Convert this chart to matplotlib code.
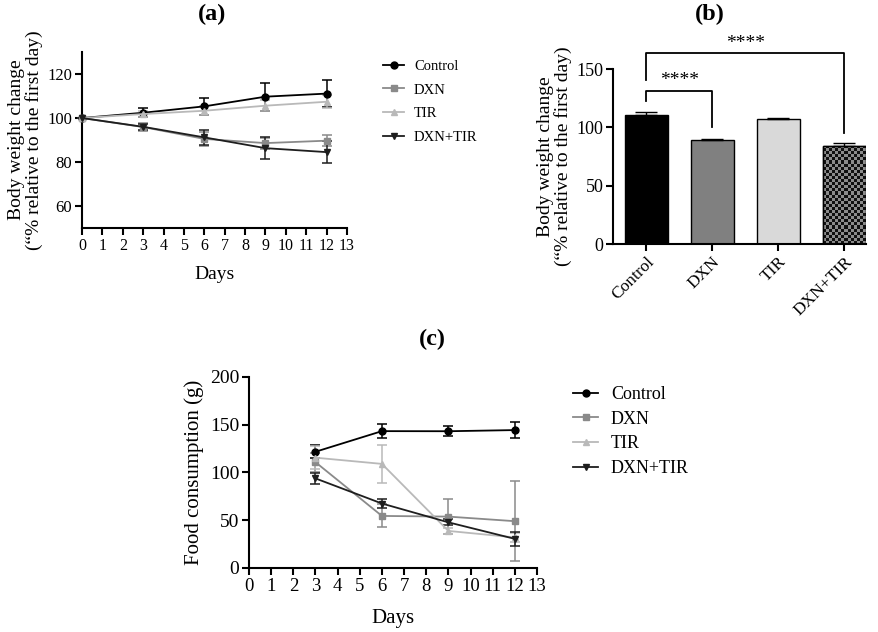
import numpy as np
import matplotlib
matplotlib.use("Agg")
import matplotlib.pyplot as plt
from matplotlib.lines import Line2D

plt.rcParams['font.family'] = ['Liberation Serif', 'DejaVu Serif']
plt.rcParams['axes.linewidth'] = 1.5

# ---------------- data ----------------
groups = ["Control", "DXN", "TIR", "DXN+TIR"]

# (a) body weight change over days
days_a = [0, 3, 6, 9, 12]
bw_control = [100, 102.4, 105.3, 109.7, 111.1]
bw_control_err = [0, 2.0, 3.9, 6.3, 6.0]
bw_dxn = [100, 95.9, 90.5, 88.6, 89.7]
bw_dxn_err = [0, 2.0, 3.0, 2.5, 2.5]
bw_tir = [100, 101.8, 103.3, 105.6, 107.4]
bw_tir_err = [0, 1.5, 2.0, 2.5, 3.0]
bw_combo = [100, 96.0, 91.2, 86.3, 84.5]
bw_combo_err = [0, 1.5, 3.5, 5.0, 5.0]

# (b) final body weight change
final_bw = [110.6, 89.4, 107.1, 84.3]
final_bw_err = [2.8, 0.8, 1.2, 2.0]

# (c) food consumption
days_c = [3, 6, 9, 12]
fc_control = [121.7, 143.3, 143.2, 144.4]
fc_control_err = [7, 7, 5, 8]
fc_dxn = [110.8, 54.5, 53.8, 49.0]
fc_dxn_err = [10, 12, 18, 42]
fc_tir = [115.5, 109.0, 38.8, 32.0]
fc_tir_err = [12, 20, 3, 5]
fc_combo = [93.8, 67.5, 47.8, 30.5]
fc_combo_err = [6, 5, 3, 7]

colors = {"Control": "#000000", "DXN": "#8a8a8a", "TIR": "#b9b9b9", "DXN+TIR": "#1e1e1e"}
markers = {"Control": "o", "DXN": "s", "TIR": "^", "DXN+TIR": "v"}

fig = plt.figure(figsize=(8.79, 6.32), dpi=100)

def style_axes(ax, ls):
    ax.spines['top'].set_visible(False)
    ax.spines['right'].set_visible(False)
    ax.tick_params(direction='out', width=1.5, length=5, labelsize=ls, pad=2)

def line_panel(ax, x, series, fs_leg, leg_anchor, spacing, ls):
    handles = []
    for name, (y, e) in series.items():
        ax.errorbar(x, y, yerr=e, color=colors[name], marker=markers[name],
                    markersize=5, linewidth=1.3, elinewidth=1.1, capsize=3.5,
                    capthick=1.1, clip_on=False, zorder=3)
        handles.append(Line2D([], [], color=colors[name], marker=markers[name],
                              markersize=5, linewidth=1.3, label=name))
    ax.set_xlim(0, 13)
    ax.set_xticks(range(0, 14))
    style_axes(ax, ls)
    ax.legend(handles=handles, loc='upper left', bbox_to_anchor=leg_anchor,
              frameon=False, fontsize=fs_leg, handlelength=1.4, handletextpad=0.7,
              labelspacing=spacing, borderaxespad=0)

# ---------------- (a) ----------------
ax_a = fig.add_axes([0.0933, 0.6392, 0.3015, 0.2785])
line_panel(ax_a, days_a,
           {"Control": (bw_control, bw_control_err), "DXN": (bw_dxn, bw_dxn_err),
            "TIR": (bw_tir, bw_tir_err), "DXN+TIR": (bw_combo, bw_combo_err)},
           10.5, (1.115, 0.99), 0.72, 12)
ax_a.tick_params(axis='x', labelsize=11.5)
ax_a.set_ylim(50, 130)
ax_a.set_yticks([60, 80, 100, 120])
ax_a.set_xlabel("Days", fontsize=14, labelpad=9)
ax_a.set_ylabel("Body weight change\n(“% relative to the first day)", fontsize=14,
                linespacing=1.0, labelpad=3)
fig.text(212 / 879, 1 - 14 / 632, "(a)", fontsize=17.5, fontweight='bold',
         ha='center', va='center')

# ---------------- (b) ----------------
ax_b = fig.add_axes([0.6974, 0.6139, 0.2878, 0.2769])
xpos = np.arange(len(groups))
bar_colors = ["#000000", "#808080", "#d9d9d9", "#808080"]
bars = ax_b.bar(xpos, final_bw, width=0.65, color=bar_colors, edgecolor='black',
                linewidth=1.0, zorder=2)
ax_b.errorbar(xpos, final_bw, yerr=[[0] * len(groups), final_bw_err], fmt='none',
              ecolor='black', elinewidth=1.0, capsize=8, capthick=1.0, zorder=3)
ax_b.set_xlim(-0.5, 3.33)
ax_b.set_ylim(0, 150)
ax_b.set_yticks([0, 50, 100, 150])
ax_b.set_xticks(xpos)
ax_b.set_xticklabels(groups, rotation=45, ha='right', rotation_mode='anchor')
style_axes(ax_b, 13)
ax_b.tick_params(axis='x', labelsize=12.5)
ax_b.set_ylabel("Body weight change\n(“% relative to the first day)", fontsize=14,
                linespacing=1.0, labelpad=3)
fig.text(710 / 879, 1 - 14 / 632, "(b)", fontsize=17.5, fontweight='bold',
         ha='center', va='center')

# checkerboard on DXN+TIR bar
fig.canvas.draw()
cb = bars[3]
bx0, bw_ = cb.get_x(), cb.get_width()
bh = cb.get_height()
p0 = ax_b.transData.transform((bx0, 0))
p1 = ax_b.transData.transform((bx0 + bw_, bh))
ncol = int(round((p1[0] - p0[0]) / 3.1))
nrow = int(round((p1[1] - p0[1]) / 3.1))
ii, jj = np.indices((nrow, ncol))
checker = ((ii + jj) % 2).astype(float)
im = ax_b.imshow(checker, cmap=matplotlib.colors.ListedColormap(["#111111", "#8c8c8c"]),
                 extent=(bx0, bx0 + bw_, 0, bh), aspect='auto', interpolation='nearest',
                 zorder=2.5, origin='lower')
im.set_clip_path(cb)
ax_b.add_patch(plt.Rectangle((bx0, 0), bw_, bh, fill=False, edgecolor='black',
                             linewidth=1.0, zorder=2.6))
ax_b.set_xlim(-0.5, 3.33)
ax_b.set_ylim(0, 150)

# significance brackets
def bracket(ax, i, j, y_left, y_top, y_right, y_text):
    ax.plot([i, i, j, j], [y_left, y_top, y_top, y_right], color='black', lw=1.3,
            clip_on=False, zorder=4)
    ax.text((i + j) / 2, y_text, "****", ha='center', va='center', fontsize=14,
            clip_on=False)

bracket(ax_b, 0, 1, 123, 131.5, 100, 140)
bracket(ax_b, 0, 3, 140.5, 163.5, 95.5, 172)

# ---------------- (c) ----------------
ax_c = fig.add_axes([0.2833, 0.1013, 0.3276, 0.3022])
line_panel(ax_c, days_c,
           {"Control": (fc_control, fc_control_err), "DXN": (fc_dxn, fc_dxn_err),
            "TIR": (fc_tir, fc_tir_err), "DXN+TIR": (fc_combo, fc_combo_err)},
           13, (1.1, 0.99), 0.42, 14)
ax_c.set_ylim(0, 200)
ax_c.set_yticks([0, 50, 100, 150, 200])
ax_c.tick_params(axis='x', labelsize=13.5)
ax_c.set_xlabel("Days", fontsize=15, labelpad=10)
ax_c.set_ylabel("Food consumption (g)", fontsize=15, labelpad=4)
fig.text(432 / 879, 1 - 339 / 632, "(c)", fontsize=17.5, fontweight='bold',
         ha='center', va='center')

fig.savefig("out.png", dpi=100)
